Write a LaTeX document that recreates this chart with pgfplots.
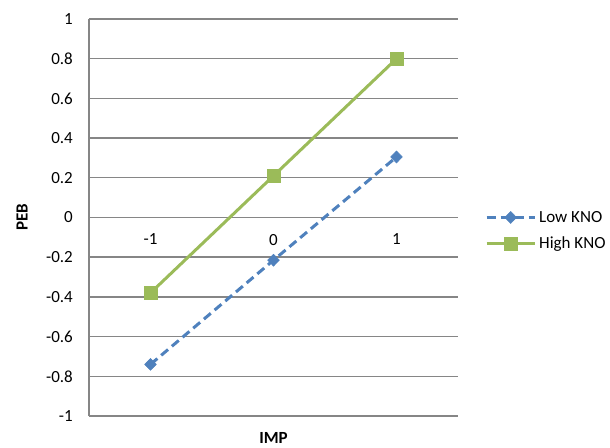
\documentclass[border=0pt]{standalone}
\usepackage{fontspec}
\setmainfont{Carlito}
\usepackage{pgfplots}
\pgfplotsset{compat=1.18}

\definecolor{gridc}{RGB}{134,134,134}
\definecolor{lowc}{RGB}{79,129,189}
\definecolor{highc}{RGB}{155,187,89}

\begin{document}
\begin{tikzpicture}[font=\fontsize{17bp}{20bp}\selectfont]
  \begin{axis}[
    scale only axis,
    width=369bp, height=397bp,
    xmin=-1.5, xmax=1.5,
    ymin=-1, ymax=1,
    axis y line=left,
    axis x line=middle,
    axis line style={-, draw=gridc, line width=1.4bp},
    xtick={-1,0,1},
    xticklabels={-1,0,1},
    ytick={-1,-0.8,-0.6,-0.4,-0.2,0,0.2,0.4,0.6,0.8,1},
    yticklabels={-1,-0.8,-0.6,-0.4,-0.2,0,0.2,0.4,0.6,0.8,1},
    major tick length=0pt,
    ymajorgrids,
    grid style={draw=gridc, line width=1.4bp},
    yticklabel style={inner sep=0pt, xshift=-16bp},
    xticklabel style={yshift=-13bp},
    xlabel={\textbf{IMP}},
    ylabel={\textbf{PEB}},
    xlabel style={at={(axis description cs:0.5,0)}, anchor=center, yshift=-22bp},
    ylabel style={at={(axis description cs:-0.1816,0.5)}, anchor=center},
    clip=false,
    legend image code/.code={
      \draw[#1, mark repeat=2, mark phase=2]
        plot coordinates {(0bp,0bp) (24bp,0bp) (48bp,0bp)};
    },
    legend cell align=left,
    legend style={
      draw=none, fill=none,
      at={(rel axis cs:1,0.467)}, anchor=west, xshift=27bp,
      inner sep=0pt,
      nodes={inner xsep=3bp, inner ysep=0pt},
      row sep=13bp,
      font=\fontsize{17bp}{20bp}\selectfont,
    },
  ]
    \addplot[lowc, line width=3bp, dash pattern=on 9bp off 5bp,
      mark=diamond*, mark size=6bp, mark options={solid, xscale=1.3, line width=0.5bp}]
      coordinates {(-1,-0.74) (0,-0.215) (1,0.305)};
    \addlegendentry{Low KNO}
    \addplot[highc, line width=3bp,
      mark=square*, mark size=6.5bp, mark options={solid, line width=0.5bp}]
      coordinates {(-1,-0.38) (0,0.21) (1,0.80)};
    \addlegendentry{High KNO}
  \end{axis}
  \pgfresetboundingbox
  \useasboundingbox (-89bp,-32bp) rectangle (521bp,416bp);
\end{tikzpicture}
\end{document}
